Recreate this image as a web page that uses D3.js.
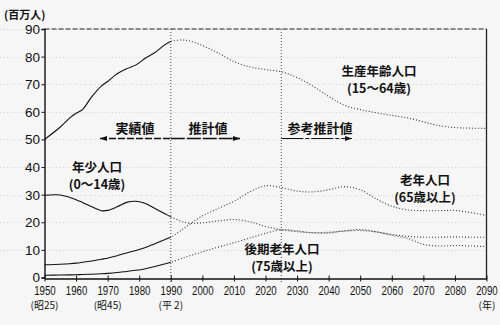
<!DOCTYPE html>
<html>
<head>
<meta charset="utf-8">
<script src="https://cdn.jsdelivr.net/npm/d3@7"></script>
<style>
  html, body { margin: 0; padding: 0; background: #f6f6f6; }
  svg { display: block; }
  .num { font-family: "Liberation Sans", Arial, sans-serif; fill: #111; }
  .jp { font-family: "Noto Sans CJK JP", sans-serif; fill: #111; }
</style>
</head>
<body>
<svg id="chart" width="500" height="325"></svg>
<script>
// Population by age group, Japan (millions). Actual figures up to 1990, projections after.
const years = [1950,1955,1958,1960,1962,1965,1968,1970,1973,1976,1979,1982,1985,1988,1990,
               1995,2000,2005,2010,2015,2020,2025,2030,2035,2040,2045,2050,2055,2060,2065,2070,2075,2080,2085,2090];

const workingAge = [50.0,54.5,57.8,59.5,60.8,65.5,69.3,71.0,73.8,75.6,77.0,79.5,81.5,84.2,85.5,
                    85.9,84.0,81.3,78.2,76.3,75.3,74.5,72.4,69.3,65.6,62.4,60.8,59.7,58.7,57.8,56.4,55.0,54.3,54.1,54.0];

const children   = [29.8,29.9,29.0,28.2,27.2,25.6,24.2,24.3,25.6,27.2,27.6,26.8,25.0,23.2,22.0,
                    19.8,19.8,20.5,21.0,20.2,18.5,17.3,16.6,16.2,16.4,16.8,17.0,16.5,15.6,14.9,14.6,14.6,14.7,14.6,14.6];

const elderly    = [4.6,4.8,5.0,5.2,5.5,6.0,6.6,7.0,7.9,8.9,9.8,10.9,12.2,13.7,14.6,
                    18.5,22.3,25.0,27.6,31.0,33.2,32.6,31.3,31.0,31.8,32.9,31.8,28.5,25.8,24.5,24.2,24.2,24.3,23.5,22.5];

const elderly75  = [0.8,0.9,0.95,1.0,1.1,1.2,1.35,1.5,1.8,2.2,2.6,3.2,4.0,4.9,5.5,
                    7.5,9.3,11.0,12.6,14.3,16.0,17.3,16.9,16.2,16.1,16.9,17.4,16.6,15.3,14.2,12.0,11.4,11.6,11.4,11.2];

const actualEnd = 1990;      // last actual year
const referenceStart = 2025; // start of reference projection
const yTicks = [0,10,20,30,40,50,60,70,80,90];
const xTicks = [1950,1960,1970,1980,1990,2000,2010,2020,2030,2040,2050,2060,2070,2080,2090];
const eraLabels = [
  { year: 1950, text: "(昭25)" },
  { year: 1970, text: "(昭45)" },
  { year: 1990, text: "(平 2)" }
];

const svg = d3.select("#chart");
const x = d3.scaleLinear().domain([1950, 2090]).range([44.5, 486.5]);
const y = d3.scaleLinear().domain([0, 90]).range([277.5, 29]);

// clip regions splitting actual and projected parts of each curve
const defs = svg.append("defs");
defs.append("clipPath").attr("id", "clip-actual").append("rect")
  .attr("x", 0).attr("y", 0).attr("width", x(actualEnd)).attr("height", 325);
defs.append("clipPath").attr("id", "clip-proj").append("rect")
  .attr("x", x(actualEnd)).attr("y", 0).attr("width", 500 - x(actualEnd)).attr("height", 325);

// faint horizontal rules
svg.append("g").selectAll("line").data(yTicks.slice(1)).join("line")
  .attr("x1", 0).attr("x2", x(2090))
  .attr("y1", d => Math.round(y(d)) + 0.5).attr("y2", d => Math.round(y(d)) + 0.5)
  .attr("stroke", "#c8c8c8").attr("stroke-width", 0.8).attr("stroke-dasharray", "1,2.5");

// frame: dashed top, solid right
svg.append("line").attr("x1", x(1950)).attr("x2", x(2090)).attr("y1", y(90)).attr("y2", y(90))
  .attr("stroke", "#222").attr("stroke-width", 1.2).attr("stroke-dasharray", "5,2");
svg.append("line").attr("x1", x(2090)).attr("x2", x(2090)).attr("y1", y(90)).attr("y2", 278.5)
  .attr("stroke", "#222").attr("stroke-width", 1.3);

// period separators
[actualEnd, referenceStart].forEach(yr => {
  svg.append("line").attr("x1", x(yr)).attr("x2", x(yr)).attr("y1", y(90)).attr("y2", 282)
    .attr("stroke", "#444").attr("stroke-width", 1).attr("stroke-dasharray", "1,2");
});

// axes
const yAxis = svg.append("g").attr("transform", `translate(${x(1950)},0)`)
  .call(d3.axisLeft(y).tickValues(yTicks).tickSize(3).tickPadding(1.5));
yAxis.select(".domain").attr("stroke", "#111").attr("stroke-width", 1.4);
yAxis.selectAll(".tick line").attr("stroke", "#111");
yAxis.selectAll(".tick text").attr("class", "num").attr("font-size", 13.5).attr("dy", "0.33em");

const xAxis = svg.append("g").attr("transform", "translate(0,278.5)")
  .call(d3.axisBottom(x).tickValues(xTicks).tickSize(0).tickFormat(d3.format("d")));
xAxis.select(".domain").attr("stroke", "#111").attr("stroke-width", 1.4);
xAxis.selectAll(".tick line").attr("y1", -3).attr("y2", 3).attr("stroke", "#111");
xAxis.selectAll(".tick text").attr("class", "num").attr("font-size", 12)
  .attr("y", 16.5).attr("dy", 0)
  .attr("textLength", 21.5).attr("lengthAdjust", "spacingAndGlyphs");

// era sub-labels
svg.append("g").selectAll("text").data(eraLabels).join("text")
  .attr("class", "jp").attr("font-size", 10)
  .attr("x", d => x(d.year)).attr("y", 309).attr("text-anchor", "middle")
  .text(d => d.text);
svg.append("text").attr("class", "jp").attr("font-size", 10)
  .attr("x", 487).attr("y", 309).attr("text-anchor", "middle").text("(年)");
svg.append("text").attr("class", "jp").attr("font-size", 11).attr("font-weight", "bold")
  .attr("x", 4).attr("y", 18.5).text("(百万人)");

// series lines: solid for actual, dotted for projections
const line = d3.line().x(d => x(d[0])).y(d => y(d[1])).curve(d3.curveCatmullRom.alpha(0.5));
[workingAge, children, elderly, elderly75].forEach(vals => {
  const pts = years.map((yr, i) => [yr, vals[i]]);
  svg.append("path").datum(pts).attr("d", line).attr("clip-path", "url(#clip-actual)")
    .attr("fill", "none").attr("stroke", "#111").attr("stroke-width", 1.1);
  svg.append("path").datum(pts).attr("d", line).attr("clip-path", "url(#clip-proj)")
    .attr("fill", "none").attr("stroke", "#333").attr("stroke-width", 1.1)
    .attr("stroke-dasharray", "1,2");
});

// period arrows
const arrowY = 138.5;
function arrowHead(px, dir) {
  svg.append("path")
    .attr("d", `M${px},${arrowY} l${-7 * dir},-2.6 l0,5.2 Z`)
    .attr("fill", "#111");
}
svg.append("line").attr("x1", 100).attr("x2", x(1990)).attr("y1", arrowY).attr("y2", arrowY)
  .attr("stroke", "#111").attr("stroke-width", 1.3).attr("stroke-dasharray", "7,2");
svg.append("line").attr("x1", x(1990)).attr("x2", 240).attr("y1", arrowY).attr("y2", arrowY)
  .attr("stroke", "#111").attr("stroke-width", 1.3).attr("stroke-dasharray", "14,2");
arrowHead(100, -1);
arrowHead(240, 1);
svg.append("line").attr("x1", x(referenceStart)).attr("x2", 352).attr("y1", arrowY).attr("y2", arrowY)
  .attr("stroke", "#111").attr("stroke-width", 1.2).attr("stroke-dasharray", "22,2,4,2");
arrowHead(352, 1);

const periodLabels = [
  { text: "実績値", cx: 135 },
  { text: "推計値", cx: 208 },
  { text: "参考推計値", cx: 320 }
];
svg.append("g").selectAll("text").data(periodLabels).join("text")
  .attr("class", "jp").attr("font-size", 13).attr("font-weight", "bold")
  .attr("x", d => d.cx).attr("y", 133).attr("text-anchor", "middle")
  .text(d => d.text);

// series labels
const seriesLabels = [
  { lines: ["年少人口", "(0〜14歳)"], cx: 97, y0: 172 },
  { lines: ["生産年齢人口", "(15〜64歳)"], cx: 379, y0: 76 },
  { lines: ["老年人口", "(65歳以上)"], cx: 425, y0: 184.5 },
  { lines: ["後期老年人口", "(75歳以上)"], cx: 282, y0: 253.5 }
];
seriesLabels.forEach(l => {
  l.lines.forEach((t, i) => {
    svg.append("text").attr("class", "jp").attr("font-size", 12.5).attr("font-weight", "bold")
      .attr("x", l.cx).attr("y", l.y0 + i * 17).attr("text-anchor", "middle").text(t);
  });
});
</script>
</body>
</html>
